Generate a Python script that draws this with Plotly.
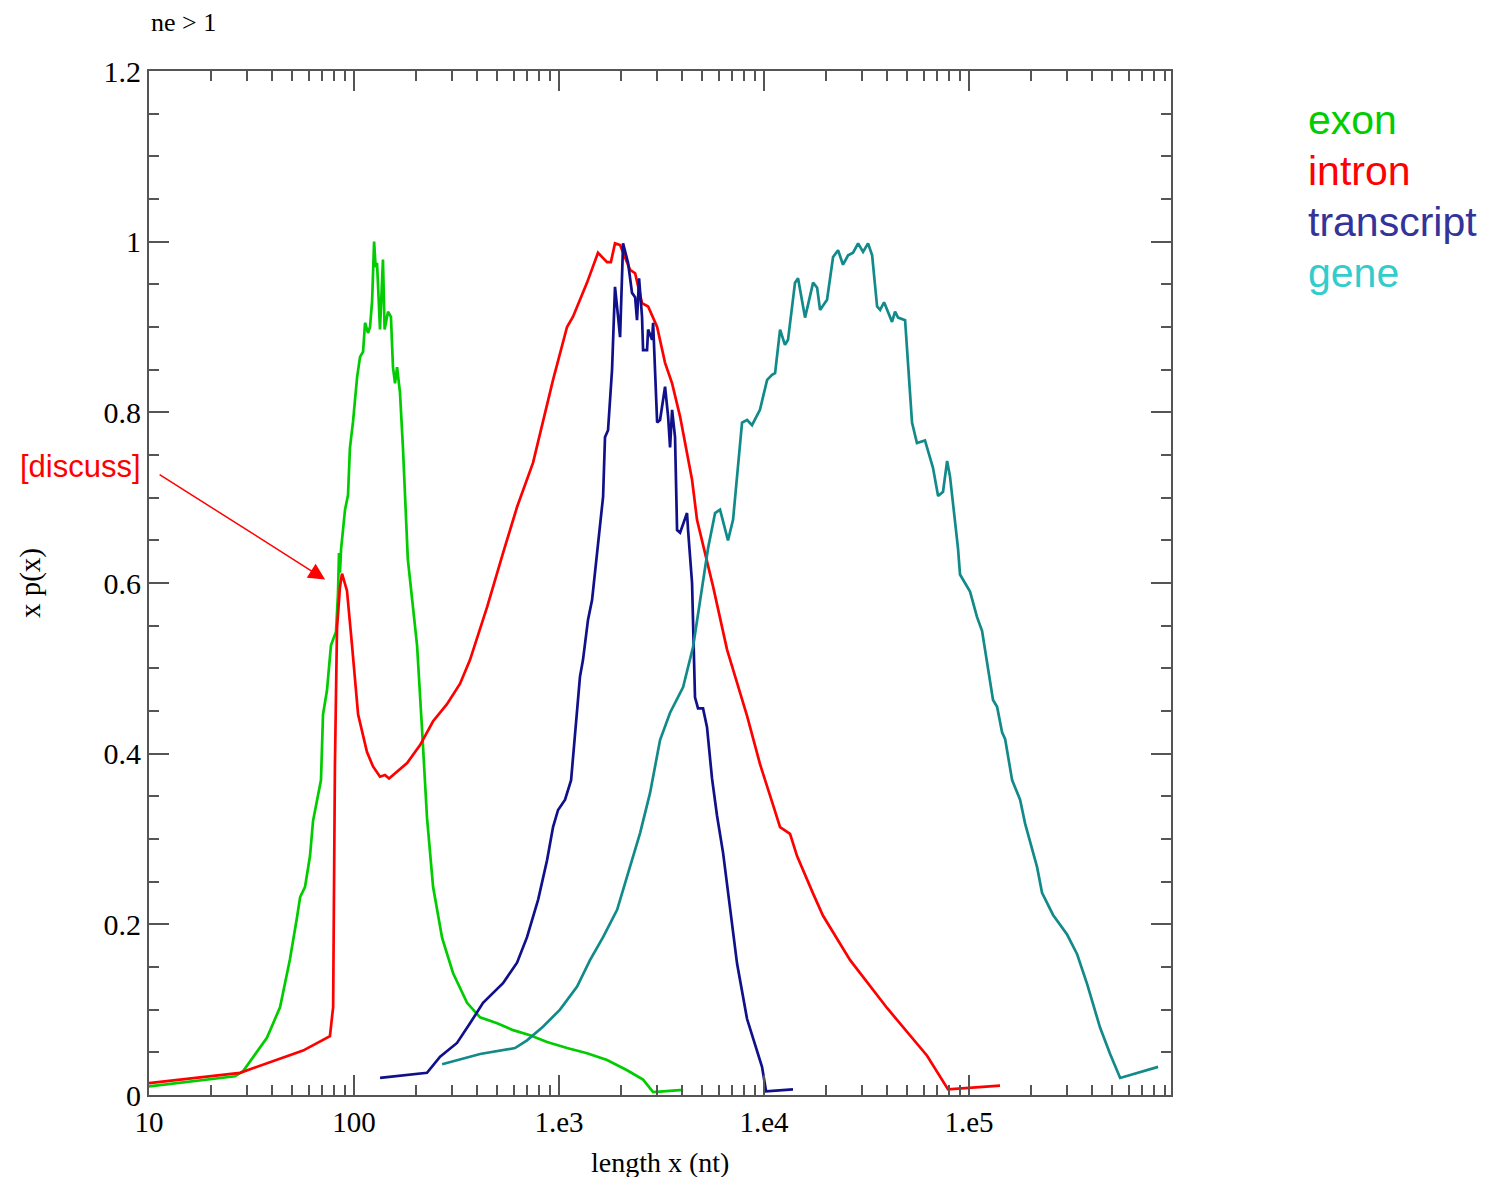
import plotly.graph_objects as go

# ---- data ----
exon_x = [10, 26.3, 28.8, 37.6, 43.6, 48.7, 52.7, 54.6, 57.7, 61.0, 63.1, 66.7, 69.0, 70.6,
          73.8, 77.2, 78.2, 81.7, 83.5, 84.5, 85.4, 86.5, 90.4, 93.5, 95.5, 98.9, 103.5,
          107, 110.7, 113.2, 117.0, 119.7, 122.5, 125.3, 127.5, 129.5, 133.9, 138.4, 141,
          146.5, 151.4, 154.9, 158.5, 162.2, 167.6, 173.3, 183, 203, 215, 227, 243, 269,
          304, 356, 412, 499, 597, 722, 874, 1094, 1370, 1715, 2148, 2570, 2877, 4030]
exon_y = [0.010, 0.022, 0.028, 0.067, 0.103, 0.159, 0.208, 0.232, 0.244, 0.280, 0.321, 0.353,
          0.369, 0.446, 0.474, 0.527, 0.531, 0.543, 0.587, 0.635, 0.612, 0.640, 0.686, 0.703,
          0.758, 0.789, 0.841, 0.865, 0.871, 0.905, 0.893, 0.900, 0.930, 1.000, 0.970, 0.975,
          0.897, 0.979, 0.897, 0.918, 0.912, 0.853, 0.834, 0.853, 0.823, 0.758, 0.628, 0.527,
          0.426, 0.325, 0.244, 0.184, 0.143, 0.108, 0.091, 0.084, 0.076, 0.070, 0.062, 0.055,
          0.049, 0.041, 0.029, 0.018, 0.0035, 0.006]

intron_x = [10, 27.8, 56.4, 76.3, 79.1, 79.9, 80.7, 82.6, 85.4, 87.4, 92.4, 97.8, 104.7, 115.7,
            123.8, 133.9, 141.6, 148.2, 162.2, 181.5, 210, 243, 284, 329, 368, 446, 533, 624,
            747, 835, 935, 1094, 1170, 1370, 1466, 1549, 1715, 1790, 1875, 1985, 2220, 2350,
            2540, 2720, 3010, 3290, 3560, 3895, 4455, 4710, 5640, 6600, 8270, 9550, 11060,
            11970, 13390, 14490, 17350, 19400, 26300, 39800, 62400, 79000, 141600]
intron_y = [0.014, 0.026, 0.052, 0.069, 0.103, 0.224, 0.385, 0.547, 0.595, 0.611, 0.591, 0.527,
            0.446, 0.402, 0.385, 0.373, 0.375, 0.371, 0.379, 0.389, 0.410, 0.438, 0.458, 0.482,
            0.510, 0.572, 0.635, 0.689, 0.741, 0.788, 0.838, 0.900, 0.912, 0.952, 0.970, 0.987,
            0.976, 0.976, 0.998, 0.996, 0.967, 0.963, 0.928, 0.924, 0.900, 0.858, 0.834, 0.795,
            0.721, 0.674, 0.596, 0.522, 0.444, 0.388, 0.340, 0.314, 0.306, 0.280, 0.236, 0.210,
            0.158, 0.102, 0.046, 0.0065, 0.011]

transcript_x = [134, 227, 263, 318, 368, 426, 533, 624, 698, 791, 874, 935, 989, 1070, 1145,
                1197, 1265, 1309, 1385, 1449, 1531, 1640, 1676, 1734, 1814, 1875, 1941, 1985,
                2053, 2172, 2270, 2350, 2401, 2457, 2540, 2570, 2687, 2720, 2843, 2877, 3010,
                3110, 3290, 3405, 3480, 3560, 3680, 3765, 3895, 4030, 4210, 4260, 4455, 4605,
                4765, 5040, 5270, 5575, 5900, 6310, 6825, 7385, 8265, 9250, 9775, 10230, 13840]
transcript_y = [0.020, 0.026, 0.045, 0.061, 0.084, 0.108, 0.131, 0.155, 0.185, 0.229, 0.275,
                0.314, 0.334, 0.346, 0.369, 0.424, 0.490, 0.510, 0.557, 0.580, 0.631, 0.701,
                0.771, 0.779, 0.850, 0.947, 0.912, 0.888, 0.998, 0.975, 0.940, 0.935, 0.908,
                0.957, 0.912, 0.873, 0.873, 0.897, 0.885, 0.905, 0.788, 0.791, 0.830, 0.795,
                0.759, 0.803, 0.771, 0.662, 0.659, 0.670, 0.682, 0.662, 0.600, 0.466, 0.453,
                0.453, 0.431, 0.371, 0.327, 0.284, 0.219, 0.154, 0.089, 0.050, 0.033, 0.0043,
                0.0065]

gene_x = [269, 412, 610, 698, 835, 1011, 1225, 1416, 1640, 1920, 2172, 2485, 2780, 3110, 3480,
          4030, 4505, 4875, 5335, 5770, 6100, 6670, 7060, 7810, 8265, 8735, 9550, 10350, 10940,
          11320, 11970, 12650, 13090, 14160, 14650, 15850, 17350, 18150, 18760, 20290, 21710,
          22960, 24280, 25700, 27180, 28760, 30410, 32160, 33670, 35600, 36830, 38500, 42100,
          43550, 45060, 48750, 52700, 55700, 60950, 66680, 70630, 74650, 78150, 80720, 88300,
          90340, 101100, 109400, 115700, 130900, 137000, 144900, 150000, 162200, 177400,
          187700, 202900, 214700, 227000, 256900, 300800, 336600, 376700, 435500, 487600,
          545700, 835700]
gene_y = [0.036, 0.048, 0.055, 0.064, 0.080, 0.100, 0.127, 0.158, 0.185, 0.217, 0.260, 0.307,
          0.354, 0.416, 0.448, 0.478, 0.525, 0.580, 0.641, 0.682, 0.686, 0.650, 0.674, 0.788,
          0.791, 0.785, 0.803, 0.838, 0.844, 0.846, 0.897, 0.879, 0.885, 0.952, 0.957, 0.911,
          0.952, 0.946, 0.920, 0.932, 0.982, 0.990, 0.973, 0.984, 0.987, 0.998, 0.988, 0.998,
          0.984, 0.924, 0.920, 0.929, 0.906, 0.918, 0.911, 0.908, 0.788, 0.764, 0.767, 0.735,
          0.702, 0.707, 0.743, 0.725, 0.641, 0.610, 0.590, 0.560, 0.544, 0.463, 0.455, 0.425,
          0.417, 0.369, 0.346, 0.318, 0.287, 0.267, 0.237, 0.211, 0.188, 0.165, 0.130, 0.079,
          0.048, 0.020, 0.033]

x_tickvals = [10, 100, 1000, 10000, 100000]
x_ticktext = ["10", "100", "1.e3", "1.e4", "1.e5"]
y_tickvals = [0, 0.2, 0.4, 0.6, 0.8, 1.0, 1.2]
y_ticktext = ["0", "0.2", "0.4", "0.6", "0.8", "1", "1.2"]

series = [
    ("exon", exon_x, exon_y, "#00cc00", "#00cc00"),
    ("intron", intron_x, intron_y, "#ff0000", "#ff0000"),
    ("transcript", transcript_x, transcript_y, "#10108a", "#333399"),
    ("gene", gene_x, gene_y, "#138a8a", "#33cccc"),
]

fig = go.Figure()
for name, xs, ys, lc, _ in series:
    fig.add_trace(go.Scatter(x=xs, y=ys, mode="lines", name=name,
                             line=dict(color=lc, width=2.7)))

serif = "Liberation Serif, Times New Roman, serif"
sans = "Liberation Sans, Arial, sans-serif"
axis_col = "#555555"

minor_x = [k * 10 ** d for d in range(1, 6) for k in range(2, 10)]

fig.update_xaxes(type="log", range=[1, 5.985], tickvals=x_tickvals, ticktext=x_ticktext,
                 ticks="inside", ticklen=20, tickwidth=1.5, tickcolor=axis_col,
                 showline=True, linecolor=axis_col, linewidth=2, mirror="ticks",
                 showgrid=False, zeroline=False,
                 tickfont=dict(family=serif, size=29, color="black"),
                 minor=dict(tickvals=minor_x, ticks="inside", ticklen=10,
                            tickwidth=1.5, tickcolor=axis_col, showgrid=False))
fig.update_yaxes(range=[0, 1.2], tickvals=y_tickvals, ticktext=y_ticktext,
                 ticks="inside", ticklen=20, tickwidth=1.5, tickcolor=axis_col,
                 showline=True, linecolor=axis_col, linewidth=2, mirror="ticks",
                 showgrid=False, zeroline=False,
                 tickfont=dict(family=serif, size=30, color="black"),
                 minor=dict(dtick=0.05, ticks="inside", ticklen=10,
                            tickwidth=1.5, tickcolor=axis_col, showgrid=False))

ann = []
# legend as coloured text
for i, (name, _, _, _, tc) in enumerate(series):
    ann.append(dict(text=name, xref="paper", yref="paper", x=1.132, y=0.952 - i * 0.0498,
                    xanchor="left", yanchor="middle", showarrow=False,
                    font=dict(family=sans, size=41, color=tc)))
# titles
ann.append(dict(text="ne > 1", xref="paper", yref="paper", x=0.0, y=1.047,
                xanchor="left", yanchor="middle", showarrow=False,
                font=dict(family=serif, size=26, color="black")))
ann.append(dict(text="length x (nt)", xref="paper", yref="paper", x=0.5, y=-0.066,
                xanchor="center", yanchor="middle", showarrow=False,
                font=dict(family=serif, size=28, color="black")))
ann.append(dict(text="x p(x)", xref="paper", yref="paper", x=-0.1164, y=0.5,
                xanchor="center", yanchor="middle", showarrow=False, textangle=-90,
                font=dict(family=serif, size=29, color="black")))
# [discuss] label and arrow
ann.append(dict(text="[discuss]", xref="paper", yref="paper", x=-0.0675, y=0.614,
                xanchor="center", yanchor="middle", showarrow=False,
                font=dict(family=sans, size=31, color="#ff0000")))
ann.append(dict(text="", x=1.859, y=0.604, xref="x", yref="y", showarrow=True,
                ax=-167, ay=-106, arrowhead=2, arrowsize=2.2, arrowwidth=1.5,
                arrowcolor="#ff0000"))

# page body has an 8px margin, so the figure is shifted by 8px
fig.update_layout(width=1485, height=1169, margin=dict(l=141, r=322, t=63, b=82),
                  plot_bgcolor="white", paper_bgcolor="white", showlegend=False,
                  annotations=ann, hovermode=False)

fig.write_html("out.html", config=dict(displayModeBar=False))
